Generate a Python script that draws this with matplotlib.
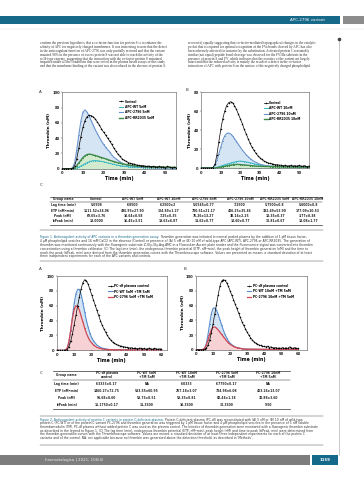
import textwrap

import matplotlib
matplotlib.use("Agg")
import matplotlib.pyplot as plt
import numpy as np
from matplotlib.patches import Rectangle


PAGE_W, PAGE_H = 364, 480
OUT_PATH = "out.png"

# ---------------------------------------------------------------- data
# Figure 1: thrombin (nM) read every 1 min from 0 to 55 min
FIG1_STEP = 1.0
FIG1A_CONTROL = [0, 0, 0, 0, 0, 0.5, 4, 13, 27, 42, 54, 63, 68, 70, 69.5, 68, 65, 61, 57, 52,
                 48, 44, 40, 36, 32, 27, 23, 19, 16, 13, 11, 9.5, 8, 7, 6.5, 6, 5, 4.5, 4, 4,
                 3.5, 3, 3.5, 2.5, 3, 2.5, 2, 3, 2, 2.5, 1.5, 3, 2, 1.5, 2, 1.5]
FIG1A_WT = [0, 0, 0, 0, 0, 0, 0.5, 1, 2, 3.5, 5, 6.5, 8, 9, 10, 10.5, 10.6, 10.4, 10, 9.5,
            9, 8.3, 7.6, 7, 6.3, 5.7, 5, 4.5, 4, 3.6, 3.2, 2.9, 2.6, 2.3, 2.1, 1.9, 1.8, 1.7, 1.6, 1.5,
            1.5, 1.4, 1.4, 1.3, 1.3, 1.2, 1.2, 1.2, 1.1, 1.1, 1.1, 1, 1, 1, 1, 1]
FIG1A_2796 = [0, 0, 0, 0, 0, 1, 8, 24, 44, 62, 74, 77, 74, 69, 63, 57, 51, 46, 41, 36,
              32, 28, 25, 22, 18, 15, 13, 11, 9, 7.5, 6, 5, 4.5, 4, 3.5, 3, 3, 2.5, 2.5, 2,
              2, 2, 1.5, 2, 1.5, 1.5, 1.5, 1, 1.5, 1, 1, 1.5, 1, 1, 1, 1]
FIG1A_RR2035 = [0, 0, 0, 0, 0, 0.3, 1.5, 4, 7.5, 11, 14.5, 17, 18.5, 19, 18.7, 18, 17.2, 16.4, 15.5, 14.6,
                13.8, 13, 12, 11, 10.2, 9.3, 8.5, 7.8, 7.1, 6.5, 6, 5.5, 5, 4.6, 4.2, 3.9, 3.6, 3.4, 3.2, 3,
                2.8, 2.7, 2.6, 2.5, 2.4, 2.3, 2.2, 2.2, 2.1, 2, 2, 1.9, 1.9, 1.8, 1.8, 1.8]

FIG1B_CONTROL = [0, 0, 0, 0, 0, 0, 0.5, 4, 14, 28, 41, 52, 60, 66, 69, 70, 69, 66, 62, 57,
                 52, 47, 41, 36, 31, 26, 22, 18.5, 15.5, 13, 11, 9, 7.5, 6.5, 5.5, 5, 4.5, 4, 3.5, 3.5,
                 3, 3, 2.5, 3, 2, 2.5, 3, 2, 2.5, 2, 3, 2, 2, 2.5, 1.5, 2]
FIG1B_WT = [0, 0, 0, 0, 0, 0, 0, 0.3, 0.8, 1.3, 2, 2.7, 3.4, 4, 4.6, 5.2, 5.8, 6.3, 6.8, 7.1,
            7.25, 7.1, 6.8, 6.4, 6, 5.5, 5, 4.5, 4, 3.6, 3.2, 2.9, 2.6, 2.3, 2.1, 1.9, 1.8, 1.7, 1.6, 1.6,
            1.5, 1.5, 1.4, 1.4, 1.3, 1.3, 1.3, 1.2, 1.2, 1.2, 1.1, 1.1, 1.1, 1.1, 1, 1]
FIG1B_2796 = [0, 0, 0, 0, 0, 0, 0.5, 3, 8, 15, 22, 29, 34, 36.5, 37, 36, 34, 31, 28, 25,
              22, 19, 16.5, 14, 12, 10, 8.5, 7, 6, 5, 4, 3.5, 3, 2.5, 2.2, 2, 1.9, 1.8, 1.8, 1.7,
              1.6, 1.6, 1.5, 1.5, 1.5, 1.4, 1.4, 1.4, 1.3, 1.3, 1.3, 1.2, 1.2, 1.2, 1.2, 1.2]
FIG1B_RR2035 = [0, 0, 0, 0, 0, 0, 0, 0, 0.3, 0.6, 1, 1.4, 1.8, 2.2, 2.6, 3, 3.3, 3.6, 3.77, 3.7,
                3.6, 3.4, 3.2, 3, 2.8, 2.6, 2.4, 2.2, 2, 1.9, 1.8, 1.7, 1.7, 1.6, 1.6, 1.5, 1.5, 1.5, 1.4, 1.4,
                1.4, 1.3, 1.3, 1.3, 1.3, 1.2, 1.2, 1.2, 1.2, 1.2, 1.1, 1.1, 1.1, 1.1, 1.1, 1]

FIG1A_LABELS = ["Control", "APC-WT 5nM", "APC-2796 5nM", "APC-RR2035 5nM"]
FIG1B_LABELS = ["Control", "APC-WT 10nM", "APC-2796 10nM", "APC-RR2035 10nM"]

# Figure 2: thrombin (nM) read every 1 min from 0 to 60 min
FIG2_STEP = 1.0
FIG2A_CONTROL = [0, 0, 0, 0, 0, 0, 1, 5, 12, 22, 34, 47, 60, 72, 83, 91, 95, 93.5, 89, 82,
                 75, 68, 61, 54, 47, 40, 34, 29, 24.5, 20, 16.5, 13.5, 11, 9.5, 8, 7, 6, 5.5, 5, 4.5,
                 4, 3.5, 3, 3.5, 2.5, 3, 2, 2.5, 3, 2, 2.5, 1.5, 2, 3, 2, 1.5, 2.5, 2, 1.5, 2, 1.5]
FIG2A_WT = [0, 0, 0, 0, 0, 0, 2, 10, 26, 45, 63, 76, 82, 82, 75, 64, 52, 40, 31, 23,
            17, 13, 10, 7, 5.5, 4, 3, 2.5, 2, 1.5, 1, 1, 1, 0.8, 0.8, 0.8, 0.7, 0.7, 0.7, 0.6,
            0.6, 0.6, 0.6, 0.5, 0.5, 0.5, 0.5, 0.5, 0.5, 0.5, 0.5, 0.5, 0.5, 0.5, 0.5, 0.5, 0.5, 0.5, 0.5, 0.5, 0.5]
FIG2A_2796 = [0, 0, 0, 0, 0, 0.5, 3, 12, 27, 43, 55, 60, 59, 54, 46, 38, 30, 23, 17.5, 13,
              10, 7.5, 5.5, 4, 3, 2.5, 2, 1.5, 1.2, 1, 1, 0.9, 0.9, 0.8, 0.8, 0.8, 0.7, 0.7, 0.7, 0.6,
              0.6, 0.6, 0.6, 0.5, 0.5, 0.5, 0.5, 0.5, 0.5, 0.5, 0.5, 0.5, 0.5, 0.5, 0.5, 0.5, 0.5, 0.5, 0.5, 0.5, 0.5]

FIG2B_CONTROL = [0, 0, 0, 0, 0, 0.5, 2, 6, 13, 23, 35, 48, 61, 74, 86, 93, 95, 94, 91, 86,
                 80, 74, 68, 62, 56, 50, 44, 38, 33, 28.5, 24, 20, 16.5, 13.5, 11, 9, 7.5, 6.5, 6, 5,
                 4.5, 4, 5, 3, 4, 3, 2.5, 3, 2, 2.5, 2, 3, 2, 2.5, 2, 4, 2.5, 2, 3, 2, 2]
FIG2B_WT = [0, 0, 0, 0, 0.5, 2, 8, 20, 35, 49, 56, 57, 54, 48, 41, 34, 27, 21, 16, 12,
            9, 7, 5.5, 4, 3, 2.5, 2, 1.5, 1, 1, 0.9, 0.9, 0.8, 0.8, 0.8, 0.7, 0.7, 0.7, 0.6, 0.6,
            0.6, 0.6, 0.5, 0.5, 0.5, 0.5, 0.5, 0.5, 0.5, 0.5, 0.5, 0.5, 0.5, 0.5, 0.5, 0.5, 0.5, 0.5, 0.5, 0.5, 0.5]
FIG2B_2796 = [0, 0, 0, 0, 0.5, 2, 6, 13, 21, 27, 30.5, 31, 29.5, 27, 24, 21, 18, 15, 12, 9.5,
              7.5, 6, 4.5, 3.5, 3, 2.5, 2, 1.5, 1.2, 1, 1, 0.9, 0.9, 0.8, 0.8, 0.8, 0.7, 0.7, 0.7, 0.6,
              0.6, 0.6, 0.6, 0.5, 0.5, 0.5, 0.5, 0.5, 0.5, 0.5, 0.5, 0.5, 0.5, 0.5, 0.5, 0.5, 0.5, 0.5, 0.5, 0.5, 0.5]

FIG2A_LABELS = ["PC-df plasma control", "PC-WT 5nM +TM 5nM", "PC-2796 5nM +TM 5nM"]
FIG2B_LABELS = ["PC-df plasma control", "PC-WT 10nM +TM 5nM", "PC-2796 10nM +TM 5nM"]

FIG1_YTICKS_A = [0, 20, 40, 60, 80, 100]
FIG1_YTICKS_B = [0, 20, 40, 60, 80]
FIG1_XTICKS = [0, 10, 20, 30, 40, 50]
FIG2_YTICKS = [0, 20, 40, 60, 80, 100]
FIG2_XTICKS = [0, 10, 20, 30, 40, 50, 60]

TABLE1_HEADER = ["Group name", "Control", "APC-WT 5nM", "APC-WT 10nM", "APC-2796 5nM",
                 "APC-2796 10nM", "APC-RR2035 5nM", "APC-RR2035 10nM"]
TABLE1_ROWS = [
    ["Lag time (min)", "5.0508", "6.8500", "6.2500±2", "5.0545±0.77", "7.2500", "5.7500±0.8", "5.6000±0.8"],
    ["ETP (nM•min)", "1511.52±34.96", "436.95±27.90", "124.89±1.27", "780.51±21.17", "406.25±35.46",
     "332.49±53.90", "177.09±10.53"],
    ["Peak (nM)", "69.65±3.76", "10.64±0.58", "7.25±0.35", "76.26±13.27", "38.14±2.25", "18.35±0.37", "3.77±0.38"],
    ["ttPeak (min)", "13.0000", "16.45±3.51", "19.63±6.87", "11.62±0.77", "13.60±0.77", "12.81±0.67", "18.08±1.77"],
]

TABLE2_HEADER = ["Group name", "PC-df plasma\ncontrol", "PC-WT 5nM\n+TM 5nM", "PC-WT 10nM\n+TM 5nM",
                 "PC-2796 5nM\n+TM 5nM", "PC-2796 10nM\n+TM 5nM"]
TABLE2_ROWS = [
    ["Lag time (min)", "6.3333±0.17", "NA", "6.0333", "6.7750±0.17", "NA"],
    ["ETP (nM•min)", "1460.27±72.75", "533.55±60.95", "257.18±3.07", "784.98±6.08", "403.26±13.07"],
    ["Peak (nM)", "95.68±8.60", "58.75±0.51", "58.35±0.81", "80.44±1.18", "30.88±3.60"],
    ["ttPeak (min)", "15.1750±0.17", "11.3500", "10.3500", "12.3500", "9.50"],
]

HEADER_TITLE = "APC-2796 variant"
FOOTER_TEXT = "haematologica | 2021; 106(4)"
PAGE_NUMBER = "1159"

BODY_LEFT = (
    "confirm the previous hypothesis that a co-factor function for protein S is to enhance the "
    "affinity of APC for negatively charged membranes. It was interesting to note that the defect "
    "in the anticoagulant function of APC-2796 was only partially restored and that the variant "
    "mutated 90% in the presence of excess protein S was not able to reach the activity of the "
    "wild-type enzyme, suggesting that the interaction with the co-factor protein S remained "
    "impaired under all the conditions that were tested in the plasma based assays of this study "
    "and that the membrane binding of the variant was also reduced in the absence of protein S."
)
BODY_RIGHT = (
    "recovered, equally suggesting that co-factor-mediated topographical changes in the catalytic "
    "pocket that is required for optimal recognition of the FVa bonds cleaved by APC has also been "
    "adversely affected for instance by the substitution. Activated protein C reasonably similar "
    "(not equal) peptide bond cleavage was observed for the FVIIIa substrate in the presence of "
    "protein S and FV, which indicates that the exosites of the variant are largely intact and "
    "that the reduced activity is mainly the result of a defect in the co-factor interaction of "
    "APC with protein S on the surface of the negatively charged phospholipid membranes used."
)

CAPTION1_TITLE = "Figure 1. Anticoagulant activity of APC variants in a thrombin generation assay."
CAPTION1 = (
    CAPTION1_TITLE + " Thrombin generation was initiated in normal pooled plasma by the addition of "
    "1 pM tissue factor, 4 µM phospholipid vesicles and 16 mM CaCl2 in the absence (Control) or presence "
    "of (A) 5 nM or (B) 10 nM of wild-type APC (APC-WT), APC-2796 or APC-RR2035. The generation of "
    "thrombin was monitored continuously with the fluorogenic substrate Z-Gly-Gly-Arg-AMC in a "
    "Fluoroskan Ascent plate reader and the fluorescence signal was converted into thrombin "
    "concentration using a thrombin calibrator. (C) The lag time (min), the endogenous thrombin "
    "potential (ETP, nM•min), the peak height of thrombin generation (nM) and the time to reach the "
    "peak (ttPeak, min) were derived from the thrombin generation curves with the Thrombinoscope "
    "software. Values are presented as means ± standard deviation of at least three independent "
    "experiments for each of the APC variants and controls."
)
CAPTION2_TITLE = "Figure 2. Anticoagulant activity of protein C variants in protein C-deficient plasma."
CAPTION2 = (
    CAPTION2_TITLE + " Protein C-deficient plasma (PC-df) was reconstituted with (A) 5 nM or (B) 10 nM "
    "of wild-type protein C (PC-WT) or of the protein C variant PC-2796 and thrombin generation was "
    "triggered by 1 pM tissue factor and 4 µM phospholipid vesicles in the presence of 5 nM soluble "
    "thrombomodulin (TM). PC-df plasma without added protein C was used as the plasma control. The "
    "kinetics of thrombin generation were monitored with a fluorogenic thrombin substrate as described "
    "in the legend to Figure 1. (C) The lag time (min), endogenous thrombin potential (ETP, nM•min), "
    "peak height (nM) and time to peak (ttPeak, min) were determined from the thrombin generation "
    "curves with the Thrombinoscope software. Values are means ± standard deviation of at least three "
    "independent experiments for each of the protein C variants and of the control. NA: not applicable "
    "because no thrombin was generated above the detection threshold, as described in 'Methods'."
)

# ---------------------------------------------------------------- style
TEAL = "#17698a"
FIG1_COLORS = ["black", "#35b7c2", "#6b95cc", "#3d8a48"]
FIG1_FILLS = [None, "#c4eef0", "#d5e5f4", "#d2eacd"]
FIG1_WIDTHS = [0.5, 0.7, 0.8, 1.0]
FIG2_COLORS = ["black", "#5a8fcc", "#cf4a55"]
FIG2_FILLS = [None, "#d2e4f5", "#f7d2d5"]
FIG2_WIDTHS = [0.5, 0.8, 0.9]


def px_rect(x0, y0, x1, y1):
    """Page pixel box -> figure fraction rect."""
    return [x0 / PAGE_W, 1 - y1 / PAGE_H, (x1 - x0) / PAGE_W, (y1 - y0) / PAGE_H]


def draw_curves(ax, step, series, labels, colors, fills, widths, xmax, ymax, xticks, yticks, legend_at):
    for vals, fill in zip(series, fills):
        if fill is None:
            continue
        t = np.arange(len(vals)) * step
        ax.fill_between(t, 0, vals, color=fill, lw=0, zorder=1)
    handles = []
    for i, (vals, lab, col, lw) in enumerate(zip(series, labels, colors, widths)):
        t = np.arange(len(vals)) * step
        if i == 0:
            h, = ax.plot(t, vals, color=col, lw=lw, marker="o", ms=1.1, mew=0, label=lab, zorder=4)
        else:
            h, = ax.plot(t, vals, color=col, lw=lw, marker="o", ms=0.7, mew=0, label=lab, zorder=3)
        handles.append(h)
    ax.set_xlim(0, xmax)
    ax.set_ylim(0, ymax)
    ax.set_xticks(xticks)
    ax.set_yticks(yticks)
    ax.tick_params(labelsize=2.7, width=0.3, length=1.0, pad=0.8, colors="#222222")
    for lbl in ax.get_xticklabels() + ax.get_yticklabels():
        lbl.set_fontweight("bold")
    for sp in ax.spines.values():
        sp.set_linewidth(0.4)
        sp.set_color("#555555")
    ax.set_xlabel("Time (min)", fontsize=3.3, fontweight="bold", labelpad=0.8)
    ax.set_ylabel("Thrombin (nM)", fontsize=3.0, fontweight="bold", labelpad=1.0)
    ax.legend(handles=handles, loc="upper left", bbox_to_anchor=legend_at, frameon=False,
              prop={"weight": "bold", "size": 2.2}, handlelength=1.4,
              handletextpad=0.5, labelspacing=0.45, borderpad=0, borderaxespad=0)


def draw_table(pax, header, rows, col_x, x0, x1, y_top, y_head, y_mid, row_y, y_bot, size):
    pax.plot([x0, x1], [y_top, y_top], color="#333333", lw=0.5)
    pax.plot([x0, x1], [y_mid, y_mid], color="#333333", lw=0.35)
    pax.plot([x0, x1], [y_bot, y_bot], color="#333333", lw=0.5)
    for x, h in zip(col_x, header):
        pax.text(x, y_head, h, ha="center", va="center", fontsize=size, fontweight="bold",
                 linespacing=1.0, color="#222222")
    for y, row in zip(row_y, rows):
        for x, cell in zip(col_x, row):
            pax.text(x, y, cell, ha="center", va="center", fontsize=size, fontweight="bold",
                     color="#222222")


def draw_wrapped(pax, text, x, y0, dy, width, nlines, size, family, title=None):
    lines = textwrap.wrap(text, width=width)[:nlines]
    for i, line in enumerate(lines):
        x_start = x
        if i == 0 and title and line.startswith(title):
            # title in journal colour, the rest of the line continues after it
            t = pax.text(x, y0, title, ha="left", va="center", fontsize=size, family=family,
                         color=TEAL)
            renderer = pax.figure.canvas.get_renderer()
            bb = t.get_window_extent(renderer).transformed(pax.transData.inverted())
            line = line[len(title):].lstrip()
            x_start = max(bb.x0, bb.x1) + 1.2
        pax.text(x_start, y0 + i * dy, line, ha="left", va="center", fontsize=size, family=family,
                 color="#333333")


def draw_page(pax):
    pax.set_xlim(0, PAGE_W)
    pax.set_ylim(PAGE_H, 0)
    pax.axis("off")

    # running header
    pax.add_patch(Rectangle((0, 16), 340, 8, color=TEAL, lw=0))
    pax.add_patch(Rectangle((343, 16), 21, 8, color="#8c8c8c", lw=0))
    pax.text(325, 20, HEADER_TITLE, ha="right", va="center", fontsize=2.9, color="white")
    pax.plot([0, PAGE_W], [28.7, 28.7], color="#e2e2e2", lw=0.3)

    # side rule with marker
    pax.plot([339, 339], [39, 455], color="#a0a0a0", lw=0.4)
    pax.plot([339], [39], marker="o", ms=1.6, color="#444444")

    # body text columns
    draw_wrapped(pax, BODY_LEFT, 40, 43, 3.9, 92, 7, 2.55, "Liberation Serif")
    draw_wrapped(pax, BODY_RIGHT, 188, 43, 3.9, 92, 7, 2.55, "Liberation Serif")

    # panel letters
    for x, y, s in [(40, 92, "A"), (187, 90, "B"), (41, 185, "C"),
                    (40.5, 268.5, "A"), (185, 269, "B"), (41, 373, "C")]:
        pax.text(x, y, s, ha="center", va="center", fontsize=3.0, color="#333333")

    # tables
    draw_table(pax, TABLE1_HEADER, TABLE1_ROWS,
               [63, 96.5, 133, 168.5, 204, 240, 275, 308], 50, 322,
               196.7, 199.2, 201.7, [205.4, 210.5, 215.7, 221.0], 224.6, 2.2)
    draw_table(pax, TABLE2_HEADER, TABLE2_ROWS,
               [66.7, 106.7, 146.7, 186.7, 226.7, 268.3], 53, 290,
               370.5, 375.3, 380.2, [384.3, 391.0, 397.8, 404.6], 409.3, 2.2)

    # captions
    pax.plot([40, 323], [230, 230], color="#555555", lw=0.35)
    draw_wrapped(pax, CAPTION1, 40, 237, 3.9, 178, 6, 2.2, "DejaVu Sans", title=CAPTION1_TITLE)
    pax.plot([40, 323], [260.8, 260.8], color="#555555", lw=0.35)
    pax.plot([40, 323], [416, 416], color="#555555", lw=0.35)
    draw_wrapped(pax, CAPTION2, 40, 419.6, 3.7, 178, 7, 2.2, "DejaVu Sans", title=CAPTION2_TITLE)
    pax.plot([40, 323], [444.5, 444.5], color="#555555", lw=0.35)

    # footer
    pax.add_patch(Rectangle((0, 455), 310, 10, color="#7d7d7d", lw=0))
    pax.text(45, 460, FOOTER_TEXT, ha="left", va="center", fontsize=2.8, color="#eeeeee")
    pax.add_patch(Rectangle((312, 455), 26, 10, color=TEAL, lw=0))
    pax.text(325, 460, PAGE_NUMBER, ha="center", va="center", fontsize=2.8, color="white",
             fontweight="bold")


def main() -> None:
    fig = plt.figure(figsize=(PAGE_W / 100, PAGE_H / 100), dpi=100)
    fig.patch.set_facecolor("white")
    pax = fig.add_axes([0, 0, 1, 1], zorder=0)
    draw_page(pax)

    ax1a = fig.add_axes(px_rect(62.3, 92.3, 175.7, 168.7), zorder=2)
    draw_curves(ax1a, FIG1_STEP, [FIG1A_CONTROL, FIG1A_WT, FIG1A_2796, FIG1A_RR2035], FIG1A_LABELS,
                FIG1_COLORS, FIG1_FILLS, FIG1_WIDTHS, 55, 100, FIG1_XTICKS, FIG1_YTICKS_A, (0.5, 0.905))
    ax1b = fig.add_axes(px_rect(201.3, 92.3, 308.6, 168.0), zorder=2)
    draw_curves(ax1b, FIG1_STEP, [FIG1B_CONTROL, FIG1B_WT, FIG1B_2796, FIG1B_RR2035], FIG1B_LABELS,
                FIG1_COLORS, FIG1_FILLS, FIG1_WIDTHS, 55, 80, FIG1_XTICKS, FIG1_YTICKS_B, (0.58, 0.885))

    ax2a = fig.add_axes(px_rect(56.7, 276.0, 166.7, 350.3), zorder=2)
    draw_curves(ax2a, FIG2_STEP, [FIG2A_CONTROL, FIG2A_WT, FIG2A_2796], FIG2A_LABELS,
                FIG2_COLORS, FIG2_FILLS, FIG2_WIDTHS, 63, 100, FIG2_XTICKS, FIG2_YTICKS, (0.47, 0.89))
    ax2b = fig.add_axes(px_rect(196.0, 276.0, 306.7, 349.8), zorder=2)
    draw_curves(ax2b, FIG2_STEP, [FIG2B_CONTROL, FIG2B_WT, FIG2B_2796], FIG2B_LABELS,
                FIG2_COLORS, FIG2_FILLS, FIG2_WIDTHS, 65, 100, FIG2_XTICKS, FIG2_YTICKS, (0.46, 0.89))

    fig.savefig(OUT_PATH, dpi=100)


if __name__ == "__main__":
    main()
